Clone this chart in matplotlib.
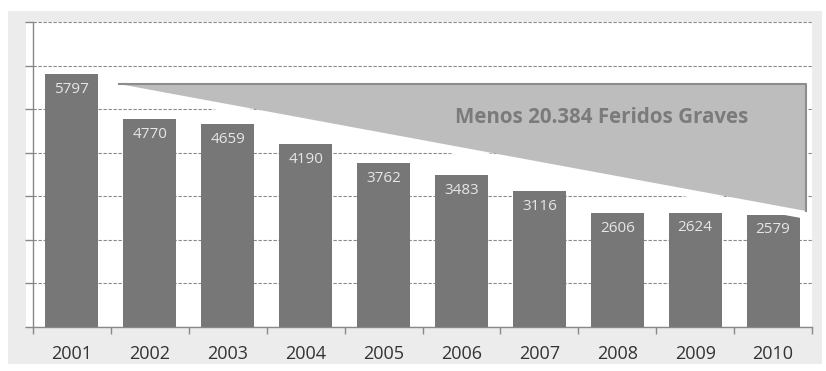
import matplotlib
matplotlib.use("Agg")
import matplotlib.pyplot as plt
from matplotlib.patches import Polygon, Rectangle

years = ["2001", "2002", "2003", "2004", "2005", "2006", "2007", "2008", "2009", "2010"]
feridos_graves = [5797, 4770, 4659, 4190, 3762, 3483, 3116, 2606, 2624, 2579]
y_ticks = [0, 1000, 2000, 3000, 4000, 5000, 6000, 7000]
banner_text = "Menos 20.384 Feridos Graves"

plt.rcParams["font.family"] = ["Open Sans", "DejaVu Sans"]

W, H = 826, 371
fig = plt.figure(figsize=(W / 100, H / 100), dpi=100, facecolor="white")

# grey frame and white plot panel behind the axes
fig.patches.append(Rectangle((8 / W, 1 - 364 / H), 814 / W, 353 / H,
                             transform=fig.transFigure, facecolor="#ececec",
                             edgecolor="none", zorder=-10))
fig.patches.append(Rectangle((26 / W, 1 - 327 / H), 786 / W, 305 / H,
                             transform=fig.transFigure, facecolor="white",
                             edgecolor="none", zorder=-9))

ax = fig.add_axes([33 / W, 1 - 327 / H, 779 / W, 305 / H])
ax.set_facecolor("none")

x = range(len(years))
ax.bar(x, feridos_graves, width=0.68, color="#777777", zorder=3)

for i, v in enumerate(feridos_graves):
    ax.annotate(str(v), (i, v), xytext=(0, -11), textcoords="offset points",
                ha="center", va="center", color="#e6e6e6", fontsize=11, zorder=4)

ax.set_xlim(-0.5, len(years) - 0.5)
ax.set_ylim(0, 7000)

ax.set_xticks(list(x))
ax.set_xticklabels(years, fontsize=13, color="#333333")
ax.set_xticks([i - 0.5 for i in range(len(years) + 1)], minor=True)
ax.tick_params(axis="x", which="major", length=0, pad=13)
ax.tick_params(axis="x", which="minor", length=5, color="#888888", width=1)

ax.set_yticks(y_ticks)
ax.set_yticklabels([])
ax.tick_params(axis="y", length=6, color="#888888", width=1)
ax.yaxis.grid(True, linestyle=(0, (3, 1.5)), color="#8a8a8a", linewidth=0.8, zorder=0)
ax.set_axisbelow(True)

for side in ("top", "right"):
    ax.spines[side].set_visible(False)
for side in ("left", "bottom"):
    ax.spines[side].set_color("#888888")
    ax.spines[side].set_linewidth(1)

# decreasing-trend banner
tri = [(0.60, 5577), (9.42, 5577), (9.42, 2662)]
ax.plot([tri[0][0], tri[2][0]], [tri[0][1] - 100, tri[2][1] - 100],
        color="white", linewidth=5, solid_capstyle="round", zorder=5)
ax.add_patch(Polygon(tri, closed=True, facecolor="#bdbdbd", edgecolor="none", zorder=6))
ax.plot([tri[0][0], tri[1][0], tri[2][0]], [tri[0][1], tri[1][1], tri[2][1]],
        color="#8c8c8c", linewidth=1.5, zorder=7)
ax.text(6.80, 4800, banner_text, ha="center", va="center", fontsize=14.8,
        fontweight="bold", color="#7b7b7b", zorder=8)

fig.savefig("out.png", dpi=100, facecolor="white")
